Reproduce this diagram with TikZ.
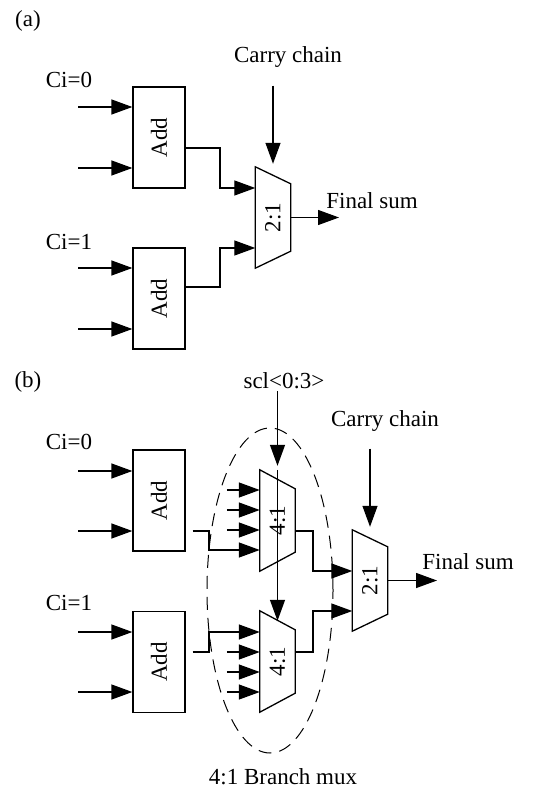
\documentclass[tikz,border=0pt]{standalone}
\usepackage{fontspec}
\setmainfont{Liberation Serif}
\usetikzlibrary{shapes.geometric,arrows.meta,calc}
\tikzset{
  % adder block, text turned up
  addbox/.style={draw, line width=1.3pt, minimum width=52pt,
    minimum height=101pt, inner sep=0pt},
  % invisible frame of a mux, the trapezium is drawn round it
  muxbox/.style={minimum width=35pt, minimum height=101pt, inner sep=0pt},
  wire/.style={line width=1.3pt},
  arr/.style={wire, -{Triangle[length=21pt,width=15pt]}},
  lbl/.style={inner sep=2pt},
  grp/.style={draw, ellipse, line width=1pt, dash pattern=on 13pt off 8pt,
    minimum width=126pt, minimum height=325pt},
}
\newcommand{\add}[2]{%
  \node[addbox] (#1) at (#2) {\rotatebox{90}{Add}};}
\newcommand{\mux}[4]{%
  \node[muxbox] (#1) at (#2) {\rotatebox{90}{#3}};
  \draw[wire] (#1.north west) -- ([yshift=-#4pt]#1.north east)
    -- ([yshift=#4pt]#1.south east) -- (#1.south west) -- cycle;}
% input arrow from the left: target, y, length
\newcommand{\inp}[3]{%
  \draw[arr] ($(#1.west |- 0,#2)+(-#3,0)$) -- (#1.west |- 0,#2);}

\begin{document}
\begin{tikzpicture}[x=1pt,y=-1pt,font=\fontsize{23}{27}\selectfont]
\useasboundingbox (0,0) rectangle (545,791);

% ----- (a) -----
\node[lbl] (tita) at (28,21) {(a)};
\node[lbl] (cia0) at (69,80) {Ci=0};
\node[lbl] (cia1) at (69,242) {Ci=1};
\node[lbl] (carrya) at (288,57) {Carry chain};
\node[lbl] (suma) at (372,201) {Final sum};

\add{adda0}{159,137.5}
\add{adda1}{159,298.5}
\mux{muxa}{273,217.5}{2:1}{17}

\foreach \y in {107,168} {\inp{adda0}{\y}{54}}
\foreach \y in {268,329} {\inp{adda1}{\y}{54}}

\draw[arr] (adda0.east |- 0,148) -| (220,188) -- (muxa.west |- 0,188);
\draw[arr] (adda1.east |- 0,287) -| (220,248) -- (muxa.west |- 0,248);
\draw[arr, shorten <=16pt] (muxa.north |- carrya.south) -- ([yshift=3pt]muxa.north);
\coordinate (outa) at (339,217.5);
\draw[arr] (muxa.east) -- (outa);

% ----- (b) -----
\node[lbl] (titb) at (28,382) {(b)};
\node[lbl] (cib0) at (69,442) {Ci=0};
\node[lbl] (cib1) at (69,603) {Ci=1};
\node[lbl] (sel) at (284,381) {scl\textless0:3\textgreater};
\node[lbl] (carryb) at (385,421) {Carry chain};
\node[lbl] (sumb) at (468,562) {Final sum};

\add{addb0}{159,500.5}
\add{addb1}{159,662}
\mux{muxb0}{277.5,520.5}{4:1}{19}
\mux{muxb1}{277.5,661.5}{4:1}{19}
\mux{muxb}{370,580.5}{2:1}{17}

\foreach \y in {471,531} {\inp{addb0}{\y}{54}}
\foreach \y in {632,692} {\inp{addb1}{\y}{54}}
\foreach \y in {490,510,530} {\inp{muxb0}{\y}{33}}
\foreach \y in {652,672,692} {\inp{muxb1}{\y}{33}}

\draw[arr, shorten <=7pt] (addb0.east |- 0,531) -| (209,550) -- (muxb0.west |- 0,550);
\draw[arr, shorten <=7pt] (addb1.east |- 0,652) -| (209,632) -- (muxb1.west |- 0,632);
\draw[arr] (muxb0.east |- 0,531) -| (313,571) -- (muxb.west |- 0,571);
\draw[arr] (muxb1.east |- 0,652) -| (313,611) -- (muxb.west |- 0,611);

% select line runs through the upper mux into the lower one
\draw[arr] (muxb0.north |- sel.south) -- ([yshift=4pt]muxb0.north);
\draw[arr] (muxb0.north) -- ([yshift=-10pt]muxb1.north);
\draw[arr, shorten <=15pt] (muxb.north |- carryb.south) -- ([yshift=3pt]muxb.north);
\coordinate (outb) at (437,580.5);
\draw[arr] (muxb.east) -- (outb);

% branch mux group
\node[grp] (branch) at (270,590.5) {};
\node[lbl] (branchlbl) at (283,777) {4:1 Branch mux};

\end{tikzpicture}
\end{document}
